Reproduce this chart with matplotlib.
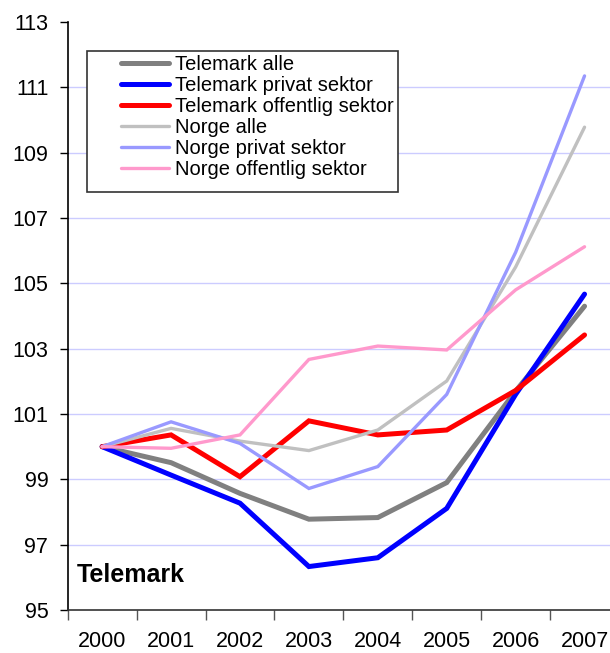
import matplotlib
matplotlib.use("Agg")
import matplotlib.pyplot as plt
from matplotlib.patches import Rectangle

plt.rcParams['font.family'] = ['Liberation Sans', 'DejaVu Sans']

years = ['2000', '2001', '2002', '2003', '2004', '2005', '2006', '2007']
telemark_alle = [100.0, 99.51, 98.57, 97.78, 97.83, 98.9, 101.7, 104.3]
telemark_privat = [100.0, 99.13, 98.27, 96.33, 96.6, 98.11, 101.6, 104.67]
telemark_offentlig = [100.0, 100.36, 99.08, 100.79, 100.36, 100.51, 101.72, 103.42]
norge_alle = [100.0, 100.56, 100.17, 99.88, 100.51, 102.01, 105.5, 109.78]
norge_privat = [100.0, 100.76, 100.1, 98.72, 99.39, 101.6, 105.95, 111.35]
norge_offentlig = [100.0, 99.95, 100.36, 102.67, 103.08, 102.96, 104.8, 106.12]

series = [
    ("Telemark alle", telemark_alle, "#808080", 3.6),
    ("Telemark privat sektor", telemark_privat, "#0000FF", 3.6),
    ("Telemark offentlig sektor", telemark_offentlig, "#FF0000", 3.6),
    ("Norge alle", norge_alle, "#C0C0C0", 2.4),
    ("Norge privat sektor", norge_privat, "#9999FF", 2.4),
    ("Norge offentlig sektor", norge_offentlig, "#FF99CC", 2.4),
]

W, H = 610, 653
fig = plt.figure(figsize=(W / 100, H / 100), dpi=100)
ax_l, ax_r, ax_t, ax_b = 67.7, 619.0, 22.0, 610.0
ax = fig.add_axes([ax_l / W, (H - ax_b) / H, (ax_r - ax_l) / W, (ax_b - ax_t) / H])

x = list(range(len(years)))
for name, vals, col, lw in series:
    ax.plot(x, vals, color=col, lw=lw, label=name, solid_capstyle='round', solid_joinstyle='miter', zorder=3)

ax.set_xlim(-0.5, 7.5)
ax.set_ylim(95, 113)
ax.set_yticks(range(95, 114, 2))
ax.set_yticklabels([str(v) for v in range(95, 114, 2)], fontsize=15.5)
ax.set_xticks(x)
ax.set_xticklabels(years, fontsize=15.5)
ax.set_xticks([i - 0.5 for i in range(9)], minor=True)
ax.tick_params(axis='x', which='major', length=0, pad=15)
ax.tick_params(axis='x', which='minor', length=7, width=1, color='#555555', direction='out')
ax.tick_params(axis='y', length=6, width=1, direction='out', pad=8)

for v in range(97, 113, 2):
    ax.axhline(v, color='#CCCCFF', lw=1, zorder=1)

for s in ['top', 'right']:
    ax.spines[s].set_visible(False)
ax.spines['left'].set_linewidth(1.2)
ax.spines['bottom'].set_linewidth(1.2)
ax.spines['bottom'].set_color('#333333')

# legend frame
def fx(px):
    return (px - ax_l) / (ax_r - ax_l)
def fy(py):
    return (ax_b - py) / (ax_b - ax_t)

ax.add_patch(Rectangle((fx(87), fy(192)), fx(398) - fx(87), fy(51) - fy(192),
                       transform=ax.transAxes, fill=True, facecolor='white',
                       edgecolor='#333333', lw=1.2, zorder=4))
leg = ax.legend(loc='upper left', bbox_to_anchor=(fx(121), fy(55)), frameon=False,
                fontsize=14.5, handlelength=2.4, handletextpad=0.3, labelspacing=0.1,
                borderpad=0, borderaxespad=0)
leg.set_zorder(5)

ax.text(fx(77), fy(582), "Telemark", transform=ax.transAxes, fontsize=18,
        fontweight='bold', ha='left', va='baseline')

fig.savefig("out.png", dpi=100)
